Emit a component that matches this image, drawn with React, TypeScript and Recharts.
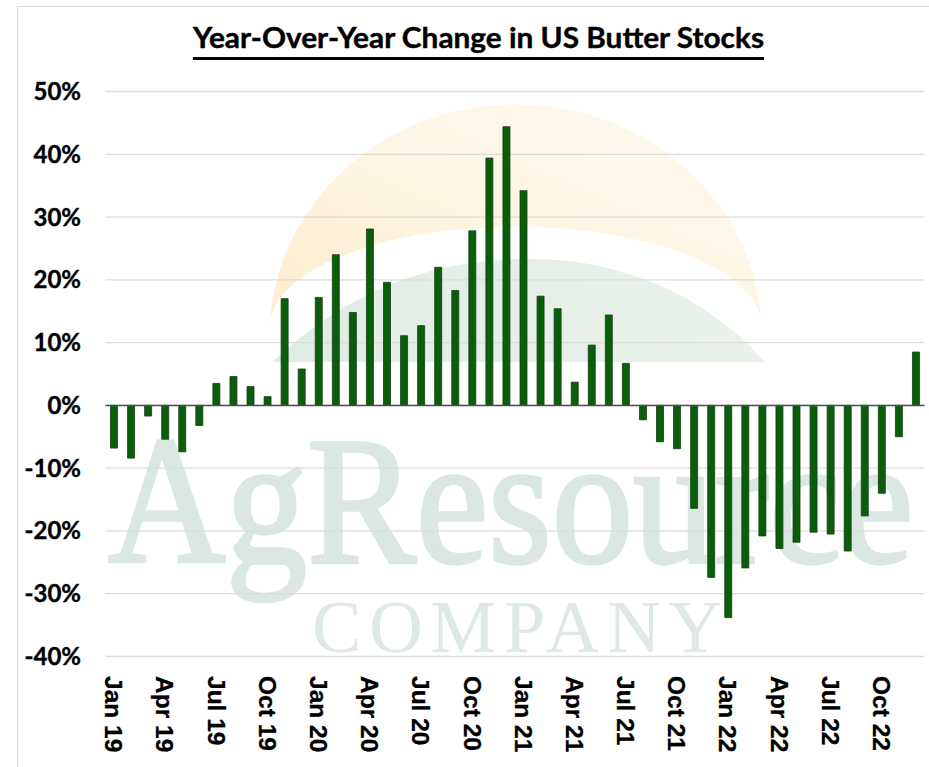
import React from 'react';
import {
  BarChart, Bar, XAxis, YAxis, CartesianGrid, ReferenceLine,
} from 'recharts';

// monthly labels, Jan 19 .. Dec 22
const MONTHS = ['Jan', 'Feb', 'Mar', 'Apr', 'May', 'Jun', 'Jul', 'Aug', 'Sep', 'Oct', 'Nov', 'Dec'];
const YEARS = ['19', '20', '21', '22'];

// YoY % change in butter stocks
const CHANGE_2019 = [-6.8, -8.4, -1.7, -5.4, -7.4, -3.2, 3.5, 4.6, 3.0, 1.4, 17.0, 5.8];
const CHANGE_2020 = [17.2, 24.0, 14.8, 28.1, 19.6, 11.1, 12.7, 22.0, 18.3, 27.8, 39.4, 44.4];
const CHANGE_2021 = [34.2, 17.4, 15.4, 3.7, 9.6, 14.4, 6.7, -2.3, -5.8, -6.9, -16.4, -27.4];
const CHANGE_2022 = [-33.8, -25.9, -20.8, -22.8, -21.8, -20.2, -20.5, -23.2, -17.6, -14.0, -5.0, 8.5];

const Y_TICKS = [-40, -30, -20, -10, 0, 10, 20, 30, 40, 50];

const values = [...CHANGE_2019, ...CHANGE_2020, ...CHANGE_2021, ...CHANGE_2022];
const data = values.map((v, i) => ({
  month: `${MONTHS[i % 12]} ${YEARS[Math.floor(i / 12)]}`,
  value: v,
}));

const W = 929;
const H = 767;

const YTick = (props: any) => {
  const { y, payload } = props;
  return (
    <text x={81} y={y + 8.5} textAnchor="end" fontFamily="Lato, 'Noto Sans', sans-serif"
      fontWeight={700} fontSize={24} fill="#000" stroke="#000" strokeWidth={0.4}>
      {payload.value}%
    </text>
  );
};

const XTick = (props: any) => {
  const { x, payload } = props;
  return (
    <text transform={`translate(${x - 8.8}, 676) rotate(90)`} textAnchor="start"
      fontFamily="'Liberation Sans', Arial, sans-serif" fontWeight={700} fontSize={24.5}
      fill="#000" stroke="#000" strokeWidth={0.3}>
      {payload.value}
    </text>
  );
};

// faint company logo sitting behind the plot
const Backdrop = () => (
  <svg width={W} height={H} style={{ position: 'absolute', left: 0, top: 0 }}>
    <defs>
      <linearGradient id="sun" x1="0" y1="1" x2="1" y2="0">
        <stop offset="0%" stopColor="#feeccf" />
        <stop offset="55%" stopColor="#fef6e4" />
        <stop offset="100%" stopColor="#fefaf0" />
      </linearGradient>
      <linearGradient id="hill" x1="0" y1="0" x2="1" y2="0">
        <stop offset="0%" stopColor="#e0ece3" />
        <stop offset="100%" stopColor="#eaf2eb" />
      </linearGradient>
    </defs>
    <rect x={17.5} y={6.5} width={W} height={H} fill="#fff" stroke="#d9d9d9" />
    <path d="M 270 324 A 246 231 0 0 1 761 318 A 246 100 0 0 0 270 324 Z" fill="url(#sun)" />
    <path d="M 272 362 C 350 290, 430 258, 534 259 C 640 260, 720 310, 765 362 Z" fill="url(#hill)" />
    <text transform="translate(108, 562) scale(1, 1.12)" fontFamily="'Liberation Serif', 'Times New Roman', serif"
      fontSize={163} fill="#dbe8e1" stroke="#dbe8e1" strokeWidth={3}>AgResource</text>
    <text x={312} y={652} fontFamily="'Liberation Serif', 'Times New Roman', serif" fontSize={74}
      fill="#dde9e2" textLength={410} lengthAdjust="spacing">COMPANY</text>
  </svg>
);

const Title = () => (
  <svg width={W} height={70} style={{ position: 'absolute', left: 0, top: 0 }}>
    <text x={478.5} y={48} textAnchor="middle" fontFamily="Lato, 'Noto Sans', sans-serif"
      fontWeight={700} fontSize={28} fill="#000" stroke="#000" strokeWidth={0.4}
      textLength={571} lengthAdjust="spacingAndGlyphs">
      Year-Over-Year Change in US Butter Stocks
    </text>
    <line x1={193} x2={764} y1={58.5} y2={58.5} stroke="#000" strokeWidth={3} />
  </svg>
);

export default function App() {
  return (
    <div style={{ position: 'absolute', left: 0, top: 0, width: W, height: H, overflow: 'hidden', background: '#fff' }}>
      <Backdrop />
      <div style={{ position: 'absolute', left: 0, top: 0 }}>
        <BarChart width={W} height={H} data={data}
          margin={{ top: 91.5, right: 4.5, bottom: 0, left: 0 }}>
          <CartesianGrid vertical={false} stroke="#dcdcdc" strokeWidth={1.3} />
          <XAxis dataKey="month" interval={2} axisLine={false} tickLine={false}
            height={110.5} tick={<XTick />} />
          <YAxis domain={[-40, 50]} ticks={Y_TICKS} width={105.5} axisLine={false}
            tickLine={false} tick={<YTick />} />
          <ReferenceLine y={0} stroke="#4d4d4d" strokeWidth={1.5} />
          <Bar dataKey="value" fill="#0a5e0a" stroke="#173d17" strokeWidth={0.8}
            barSize={7} isAnimationActive={false} />
        </BarChart>
      </div>
      <Title />
    </div>
  );
}
